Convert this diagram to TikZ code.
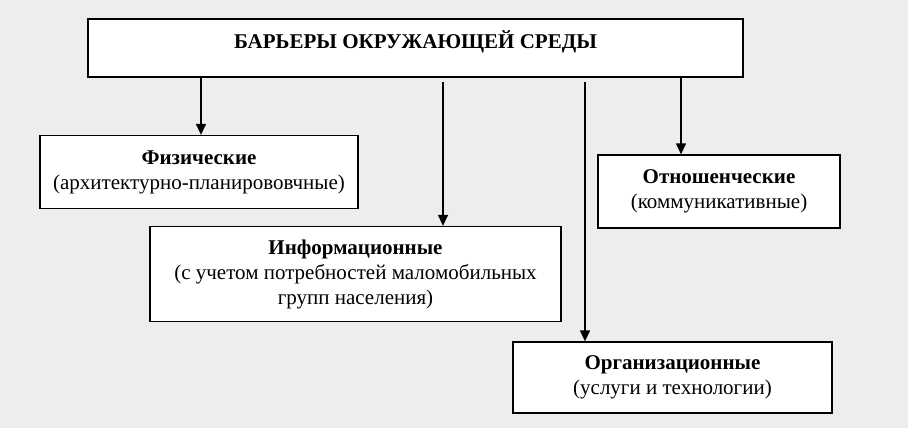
\documentclass[tikz,border=0pt]{standalone}
\usepackage{fontspec}
\setmainfont{Liberation Serif}
\usetikzlibrary{arrows.meta}
\definecolor{pageGray}{RGB}{237, 237, 237}
\tikzset{
  barbox/.style={draw, line width=1.3pt, fill=white, align=center, inner sep=0pt},
  barrow/.style={line width=1.3pt, -{Triangle[length=11pt, width=10pt]}}
}

\begin{document}
\begin{tikzpicture}[x=1pt, y=-1pt, font=\fontsize{21}{25}\selectfont]
  % Background
  \fill[pageGray] (0,0) rectangle (908,428);
  \useasboundingbox (0,0) rectangle (908,428);

  % Title box
  \node[barbox, minimum width=655pt, minimum height=58pt] (top) at (415.5,48)
    {\textbf{БАРЬЕРЫ ОКРУЖАЮЩЕЙ СРЕДЫ}\\[-8pt] \mbox{}};

  % Kinds of barriers
  \node[barbox, minimum width=318pt, minimum height=73pt] (fiz) at (199,172)
    {\textbf{Физические}\\(архитектурно-планирововчные)};
  \node[barbox, minimum width=411pt, minimum height=95pt] (inf) at (355.5,274)
    {\textbf{Информационные}\\(с учетом потребностей маломобильных\\групп населения)};
  \node[barbox, minimum width=242pt, minimum height=73pt] (otn) at (719,191.5)
    {\textbf{Отношенческие}\\(коммуникативные)};
  \node[barbox, minimum width=319pt, minimum height=71pt] (org) at (672.5,377.5)
    {\textbf{Организационные}\\(услуги и технологии)};

  % Arrows
  \coordinate (a1) at (201,77);
  \coordinate (a2) at (443,82);
  \coordinate (a3) at (585,82);
  \coordinate (a4) at (681,77);
  \draw[barrow] (a1) -- (a1 |- fiz.north);
  \draw[barrow] (a2) -- (a2 |- inf.north);
  \draw[barrow] (a3) -- (a3 |- org.north);
  \draw[barrow] (a4) -- (a4 |- otn.north);
\end{tikzpicture}
\end{document}
